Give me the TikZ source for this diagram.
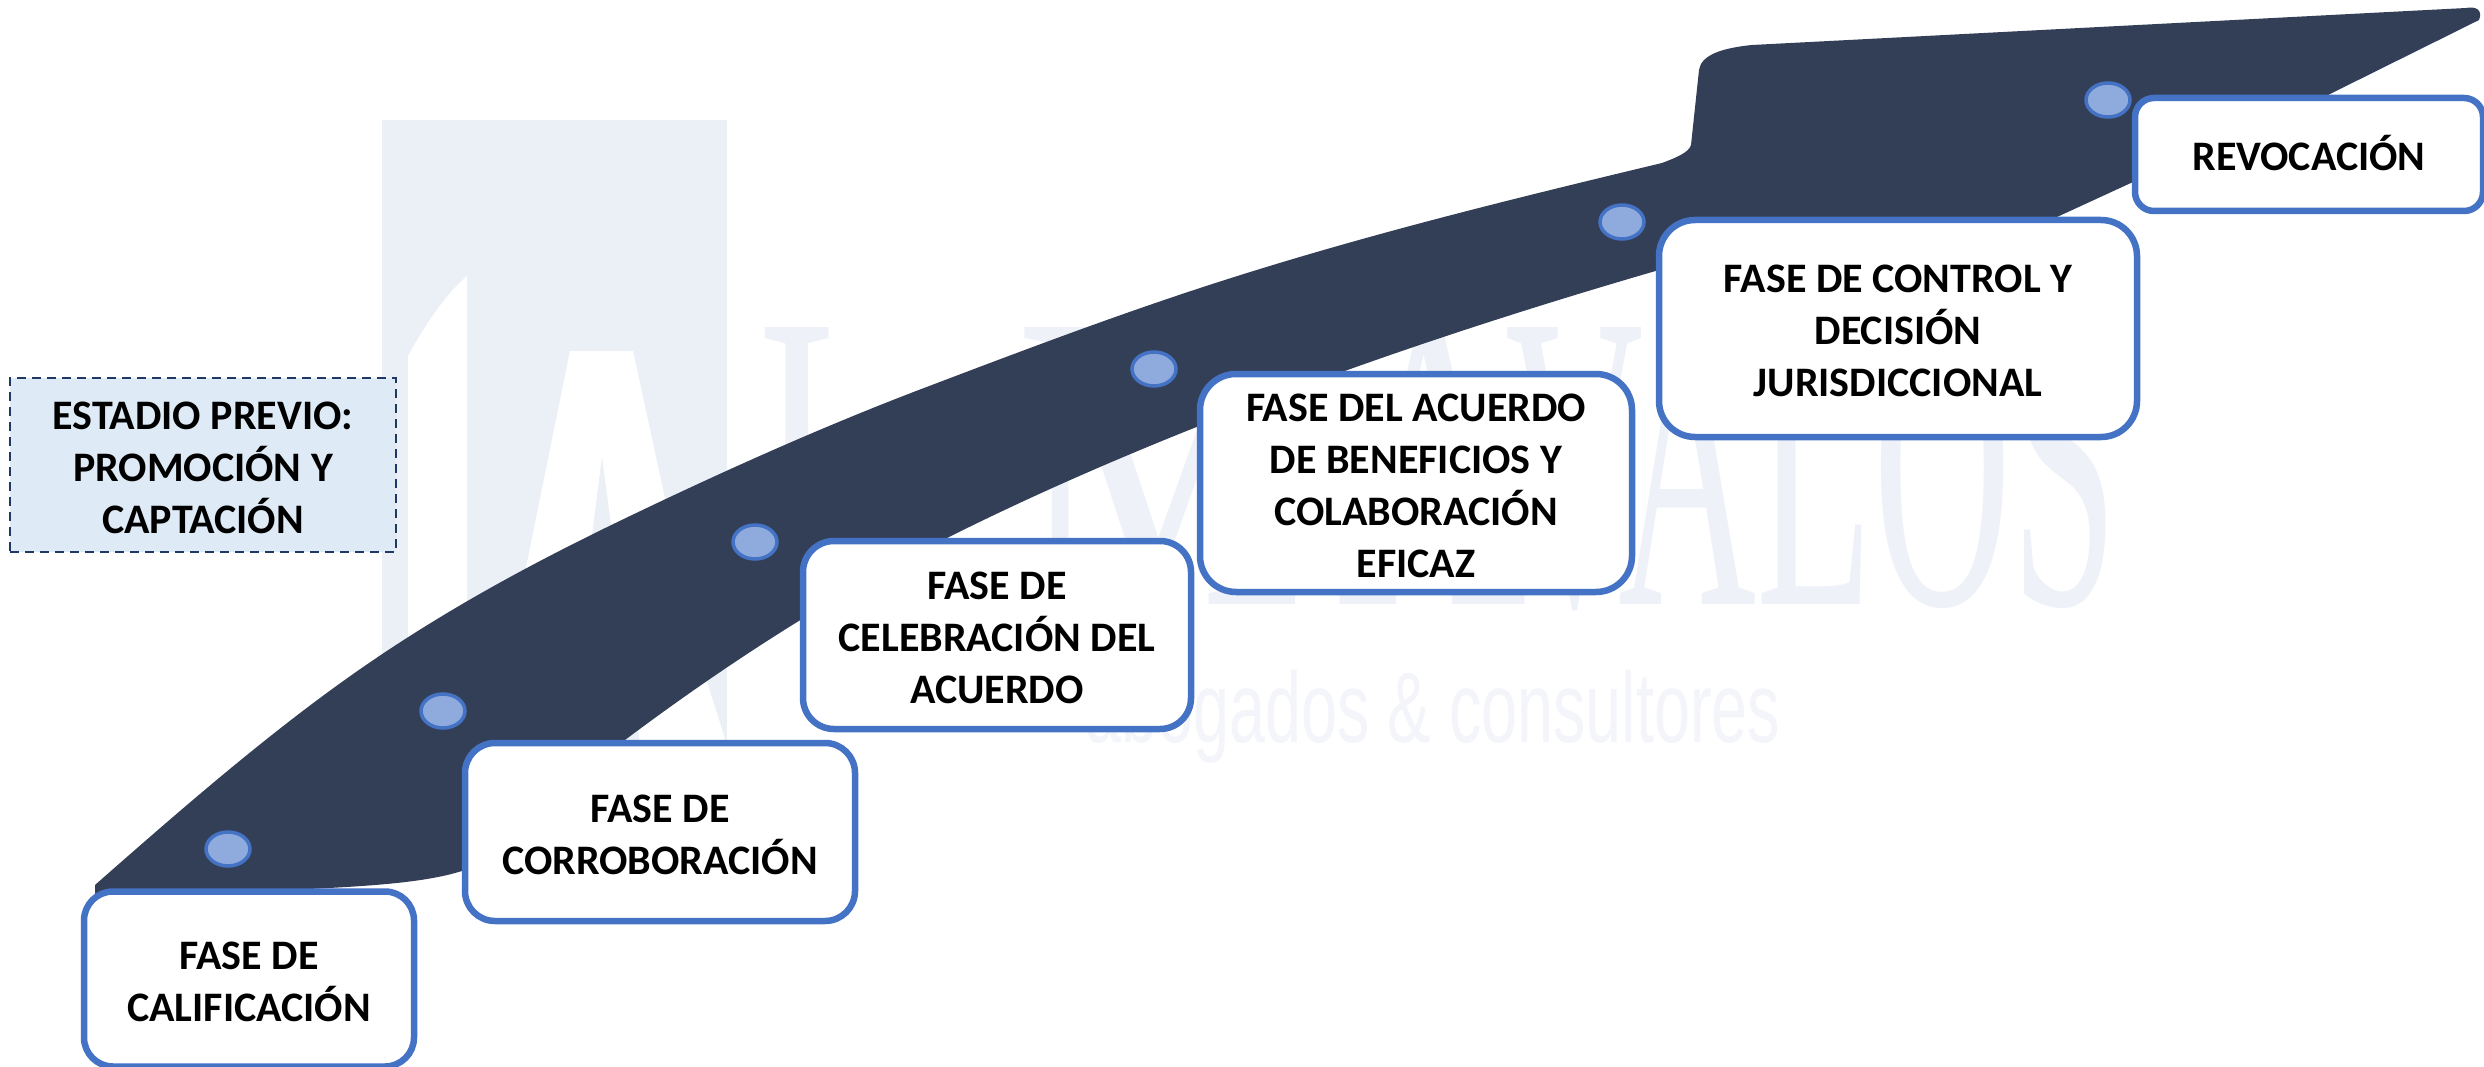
\documentclass[tikz,border=0pt]{standalone}
\usepackage{fontspec}
\setmainfont{Carlito}
\newfontfamily\wmserif{Liberation Serif}
\newfontfamily\wmsans{Liberation Sans}
\definecolor{roadc}{HTML}{333E57}
\definecolor{boxc}{HTML}{4472C4}
\definecolor{dotc}{HTML}{8FAADC}
\definecolor{prevc}{HTML}{DEEAF6}
\definecolor{prevl}{HTML}{1F3864}
\definecolor{wmc}{HTML}{EBF0F7}
\definecolor{wmn}{HTML}{EEF2F8}
\definecolor{wmd}{HTML}{F3F5FA}
\newcommand{\upstrut}{\rule{0pt}{33pt}}
\newcommand{\wmtext}[2]{\scalebox{#1}[1]{\fontsize{423}{423}\selectfont\wmserif #2}}
\tikzset{
  phasebox/.style={draw=boxc,line width=6.5pt,fill=white,align=center,inner sep=0pt,
    font=\fontsize{42}{52}\selectfont\bfseries,text=black},
  prevbox/.style={draw=prevl,line width=2.2pt,dashed,dash pattern=on 9pt off 6pt,fill=prevc,align=center,inner sep=0pt,
    font=\fontsize{42}{52}\selectfont\bfseries,text=black},
  stepdot/.style={ellipse,draw=boxc,line width=3.5pt,fill=dotc,minimum width=44pt,minimum height=34pt,inner sep=0pt},
  road/.style={fill=roadc,draw=none},
  wmshape/.style={fill=wmc,draw=none},
  wmletter/.style={anchor=base west,inner sep=0pt,text=wmn}
}
\usetikzlibrary{shapes.geometric}
\begin{document}
\begin{tikzpicture}[x=1pt,y=-1pt]
\useasboundingbox (0,0) rectangle (2484,1067);
\fill[white] (0,0) rectangle (2484,1067);
% watermark
\fill[wmshape] (382,120) rectangle (727,745);
\fill[white] (408,356) .. controls (425,325) and (445,295) .. (467,276) -- (467,745) -- (408,745) -- cycle;
\fill[white] (570,351) -- (633,351) -- (700,660) -- (727,745) -- (640,745) -- (602,458) -- (565,745) -- (490,745) -- cycle;
\fill[wmshape] (602,458) -- (640,745) -- (565,745) -- cycle;
\node[wmletter] (wma) at (756,604) {\wmtext{0.575}{I}};
\node[wmletter] (wmb) at (1015,604) {\wmtext{0.77}{M}};
\node[wmletter] (wmc) at (1337,604) {\wmtext{0.62}{A}};
\node[wmletter] (wmd) at (1505,604) {\wmtext{0.452}{VALOS}};
\node[anchor=base west,inner sep=0pt,text=wmd] (wmsub) at (1085,742)
  {\scalebox{0.648}[1]{\fontsize{100}{100}\selectfont\wmsans abogados \& consultores}};
% road
\fill[road] (95,885)
  .. controls (182,808.4) and (269,732.9) .. (356,672)
  .. controls (447.3,608.1) and (538.7,559.8) .. (630,516)
  .. controls (728,469) and (826,425.2) .. (924,388)
  .. controls (1014,353.8) and (1104,319.7) .. (1194,290)
  .. controls (1350,238.5) and (1506,200.4) .. (1662,163)
  .. controls (1678,157) and (1689,152) .. (1691,145)
  -- (1699,70) .. controls (1701,55) and (1722,48) .. (1752,45)
  -- (2466,8) .. controls (2476,6) and (2483,10) .. (2479,20)
  -- (2324,97) -- (2133,182) -- (2057,217) -- (1659,270)
  .. controls (1504,315) and (1349,366) .. (1194,428)
  .. controls (1111.7,460.9) and (1029.3,496.8) .. (947,538)
  .. controls (839.7,591.7) and (732.3,659.5) .. (625,740)
  .. controls (583.3,771.3) and (541.7,810.4) .. (500,850)
  .. controls (470,880) and (400,885) .. (287,890) -- (95,894)
  -- cycle;
% dots
\node[stepdot] (d1) at (228,849) {};
\node[stepdot] (d2) at (443,711) {};
\node[stepdot] (d3) at (755,542) {};
\node[stepdot] (d4) at (1154,369) {};
\node[stepdot] (d5) at (1622,222) {};
\node[stepdot] (d6) at (2108,100) {};
% boxes
\node[phasebox,rounded corners=29pt,minimum width=330pt,minimum height=175pt] (calif) at (249,979) {\upstrut FASE DE\\CALIFICACIÓN};
\node[phasebox,rounded corners=30pt,minimum width=390pt,minimum height=178pt] (corro) at (660,832) {\upstrut FASE DE\\CORROBORACIÓN};
\node[phasebox,rounded corners=31pt,minimum width=388pt,minimum height=188pt] (celeb) at (997,635) {\upstrut FASE DE\\CELEBRACIÓN DEL\\ACUERDO};
\node[phasebox,rounded corners=36pt,minimum width=432pt,minimum height=218pt] (acuer) at (1416,483) {\upstrut FASE DEL ACUERDO\\DE BENEFICIOS Y\\COLABORACIÓN\\EFICAZ};
\node[phasebox,rounded corners=36pt,minimum width=478pt,minimum height=217pt] (contr) at (1898,328.5) {\upstrut FASE DE CONTROL Y\\DECISIÓN\\JURISDICCIONAL};
\node[phasebox,rounded corners=19pt,minimum width=348pt,minimum height=113pt] (revoc) at (2309,154.5) {REVOCACIÓN\rule[-3pt]{0pt}{1pt}};
\node[prevbox,minimum width=386pt,minimum height=174pt] (previo) at (203,465) {\upstrut ESTADIO PREVIO:\\PROMOCIÓN Y\\CAPTACIÓN};
\end{tikzpicture}
\end{document}
